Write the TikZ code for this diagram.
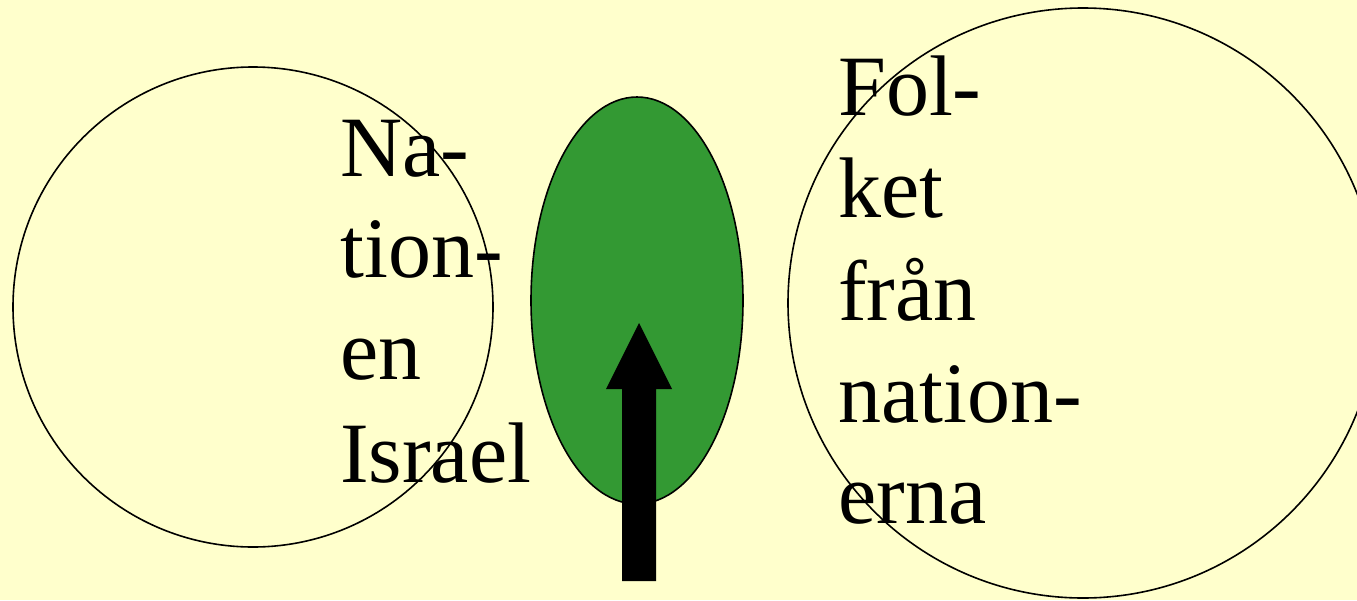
\documentclass[tikz,border=0pt]{standalone}
\usepackage{fontspec}
\setmainfont{Liberation Serif}
\usetikzlibrary{shapes.geometric}
\definecolor{bgyellow}{HTML}{FFFFCC}
\definecolor{leafgreen}{HTML}{339933}
\begin{document}
\begin{tikzpicture}[x=1pt,y=-1pt,
  ring/.style={draw=black,line width=1.6pt,circle,inner sep=0pt},
  leaf/.style={draw=black,line width=1.6pt,fill=leafgreen,ellipse,inner sep=0pt},
  word/.style={anchor=base west,inner sep=0pt,font=\fontsize{86}{102}\selectfont}]
\fill[bgyellow] (0,0) rectangle (1357,600);
\useasboundingbox (0,0) rectangle (1357,600);
\node[ring,minimum size=480pt] (israel) at (253,307) {};
\node[ring,minimum size=590pt] (folket) at (1083,303) {};
\node[leaf,minimum width=212pt,minimum height=407pt] (green) at (637,300.5) {};
\fill[black] (622,581) -- (622,389) -- (606,389) -- (639,323) -- (672,389) -- (656,389) -- (656,581) -- cycle;
\node[word] (na1) at (340,176) {Na-};
\node[word] (na2) at (340,277) {tion-};
\node[word] (na3) at (340,379) {en};
\node[word] (na4) at (340,482) {Israel};
\node[word] (fo1) at (838,115) {Fol-};
\node[word] (fo2) at (838,217) {ket};
\node[word] (fo3) at (838,320) {från};
\node[word] (fo4) at (838,422) {nation-};
\node[word] (fo5) at (838,523) {erna};
\end{tikzpicture}
\end{document}
